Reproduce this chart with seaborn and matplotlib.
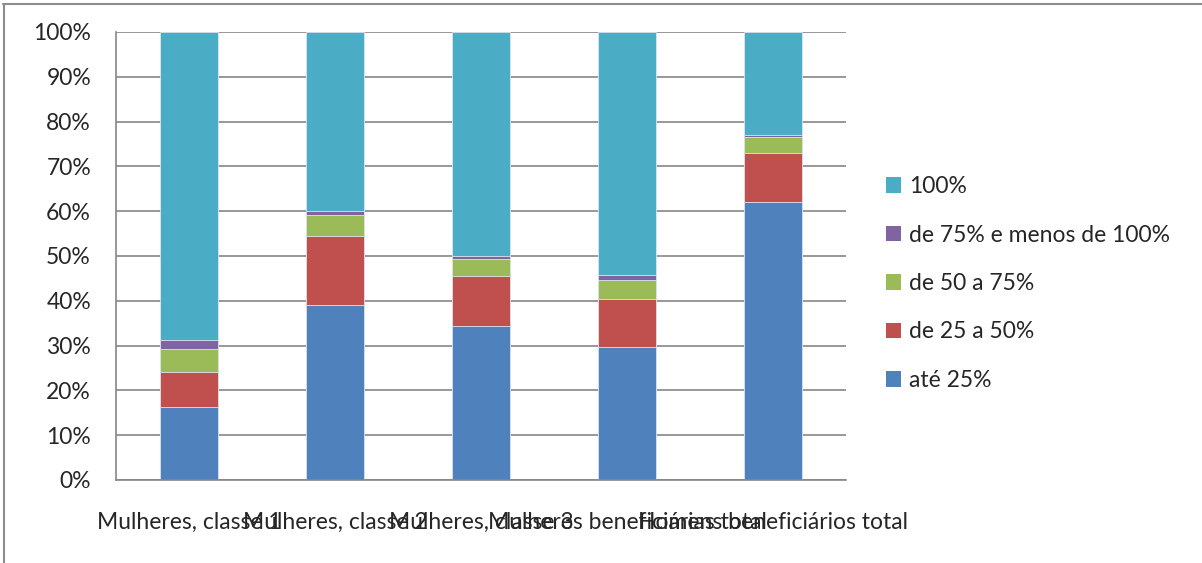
import numpy as np
import pandas as pd
import matplotlib.pyplot as plt
from matplotlib.lines import Line2D
from matplotlib.patches import Patch
import seaborn as sns

sns.set_style("white")
plt.rcParams['font.family'] = ['Lato', 'DejaVu Sans']

# data (percent shares per category)
categories = ["Mulheres, classe 1", "Mulheres, classe 2", "Mulheres, classe 3",
              "Mulheres beneficiárias total", "Homens beneficiários total"]
ate_25 = [16.3, 39.0, 34.4, 29.6, 62.0]
de_25_50 = [7.9, 15.5, 11.2, 10.8, 11.0]
de_50_75 = [5.0, 4.6, 3.7, 4.2, 3.6]
de_75_100 = [2.1, 0.9, 0.7, 1.2, 0.5]
cem = [68.7, 40.0, 50.0, 54.2, 22.9]

series_names = ["até 25%", "de 25 a 50%", "de 50 a 75%", "de 75% e menos de 100%", "100%"]
colors = ["#4F81BD", "#C0504D", "#9BBB59", "#8064A2", "#4BACC6"]

df = pd.DataFrame({"cat": categories, series_names[0]: ate_25, series_names[1]: de_25_50,
                   series_names[2]: de_50_75, series_names[3]: de_75_100, series_names[4]: cem})
cum = df[series_names].cumsum(axis=1)

fs = 16.5

fig = plt.figure(figsize=(12.02, 5.63), dpi=100)
ax = fig.add_axes([116/1202, 83/563, 730/1202, 448/563])

# stack by drawing cumulative heights, tallest first
for name, col in reversed(list(zip(series_names, colors))):
    sns.barplot(x=df["cat"], y=cum[name], color=col, width=0.4, ax=ax,
                saturation=1, edgecolor="#dde6f0", linewidth=0.6)

ax.set_ylim(0, 100)
ax.set_xlim(-0.5, 4.5)
ax.set_yticks(np.arange(0, 101, 10))
ax.set_yticklabels([f"{v}%" for v in range(0, 101, 10)], fontsize=fs)
ax.yaxis.grid(True, color="#868686", linewidth=1.2)
ax.set_axisbelow(True)

ax.set_xticks(np.arange(-0.5, 5, 1))
ax.set_xticklabels([])
ax.set_xticks(np.arange(5), minor=True)
ax.set_xticklabels(categories, minor=True, fontsize=fs)
ax.tick_params(axis="x", which="major", length=7, color="#868686", width=1.2, direction="out")
ax.tick_params(axis="x", which="minor", length=0, pad=23)
ax.tick_params(axis="y", length=5, color="#868686", width=1.2, direction="out", pad=13)
ax.set_xlabel("")
ax.set_ylabel("")

for s in ["top", "right"]:
    ax.spines[s].set_visible(False)
for s in ["left", "bottom"]:
    ax.spines[s].set_color("#868686")
    ax.spines[s].set_linewidth(1.2)

handles = [Patch(facecolor=c, edgecolor="none") for c in colors]
leg = fig.legend(handles[::-1], series_names[::-1], loc="upper left",
                 bbox_to_anchor=(886/1202, 1 - 176/563), frameon=False,
                 borderaxespad=0, borderpad=0,
                 fontsize=fs, labelspacing=1.2, handlelength=0.65, handleheight=0.65,
                 handletextpad=0.35)

# chart frame (top and left edges)
fig.add_artist(Line2D([3/1202, 1], [1 - 4/563, 1 - 4/563], color="#8c8c8c", linewidth=1.5))
fig.add_artist(Line2D([4/1202, 4/1202], [0, 1 - 4/563], color="#8c8c8c", linewidth=1.5))

fig.savefig("out.png", dpi=100)
